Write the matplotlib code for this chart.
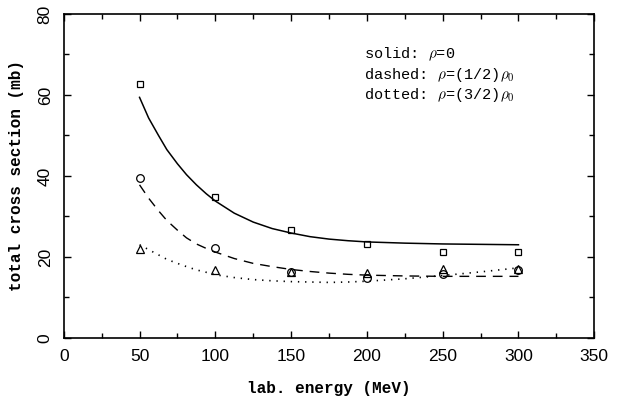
import matplotlib.pyplot as plt
from matplotlib.ticker import MultipleLocator

# measured points
energy = [50, 100, 150, 200, 250, 300]
sq_vals = [62.8, 34.8, 26.6, 23.2, 21.2, 21.2]      # rho = 0
circ_vals = [39.5, 22.3, 16.2, 14.9, 15.7, 16.7]    # rho = rho0/2
tri_vals = [21.9, 16.7, 16.2, 16.1, 16.9, 16.9]     # rho = 3rho0/2

# curves
curve_e = [50, 56, 62.5, 68, 75, 81, 87.5, 94, 100, 112.5, 125, 137.5, 150,
           162.5, 175, 187.5, 200, 225, 250, 275, 300]
solid_vals = [59.4, 54.3, 50.0, 46.5, 43.0, 40.3, 37.8, 35.6, 33.8, 30.8, 28.6,
              27.0, 25.9, 25.0, 24.4, 24.0, 23.7, 23.4, 23.2, 23.1, 23.0]
dashed_vals = [37.8, 34.5, 31.4, 29.0, 26.6, 24.7, 23.2, 22.1, 21.2, 19.6, 18.4,
               17.6, 16.9, 16.4, 16.0, 15.7, 15.5, 15.3, 15.2, 15.2, 15.2]
dotted_vals = [23.0, 21.8, 20.5, 19.4, 18.4, 17.6, 16.8, 16.2, 15.6, 14.9, 14.4,
               14.1, 13.9, 13.8, 13.7, 13.8, 14.0, 14.6, 15.4, 16.3, 17.3]

plt.rcParams['mathtext.fontset'] = 'cm'

fig = plt.figure(figsize=(6.19, 3.98), dpi=100)
ax = fig.add_axes([0.103, 0.151, 0.857, 0.814])

ax.plot(curve_e, solid_vals, color='black', linewidth=1.1)
ax.plot(curve_e, dashed_vals, color='black', linewidth=1.0, dashes=(7, 5))
ax.plot(curve_e, dotted_vals, color='black', linewidth=1.2, dashes=(0.8, 3.5))

ax.plot(energy, sq_vals, 's', mfc='none', mec='black', ms=5, mew=0.9)
ax.plot(energy, circ_vals, 'o', mfc='none', mec='black', ms=5.5, mew=0.9)
ax.plot(energy, tri_vals, '^', mfc='none', mec='black', ms=5.5, mew=0.9)

ax.set_xlim(0, 350)
ax.set_ylim(0, 80)
ax.xaxis.set_major_locator(MultipleLocator(50))
ax.xaxis.set_minor_locator(MultipleLocator(25))
ax.yaxis.set_major_locator(MultipleLocator(20))
ax.yaxis.set_minor_locator(MultipleLocator(10))
ax.tick_params(which='major', direction='in', top=True, right=True,
               length=5, width=1)
ax.tick_params(which='minor', direction='in', top=True, right=True,
               length=3.5, width=1)
ax.tick_params(axis='x', labelsize=12.5, pad=8)
ax.tick_params(axis='y', labelsize=12.5, pad=8, labelrotation=90)
for lab in ax.get_xticklabels() + ax.get_yticklabels():
    lab.set_family('Liberation Sans')
for lab in ax.get_yticklabels():
    lab.set_va('center')
for s in ax.spines.values():
    s.set_linewidth(1.2)

ax.set_xlabel('lab. energy (MeV)', family='Liberation Mono', fontweight='bold',
              fontsize=11.5, labelpad=12)
ax.set_ylabel('total cross section (mb)', family='Liberation Mono', fontweight='bold',
              fontsize=11.5, labelpad=10)

txt_kw = dict(family='Liberation Mono', fontsize=11, va='center')
ax.text(198, 70, r'solid: $\rho$=0', **txt_kw)
ax.text(198, 65, r'dashed: $\rho$=(1/2)$\rho_0$', **txt_kw)
ax.text(198, 60, r'dotted: $\rho$=(3/2)$\rho_0$', **txt_kw)

fig.savefig('out.png', dpi=100)
